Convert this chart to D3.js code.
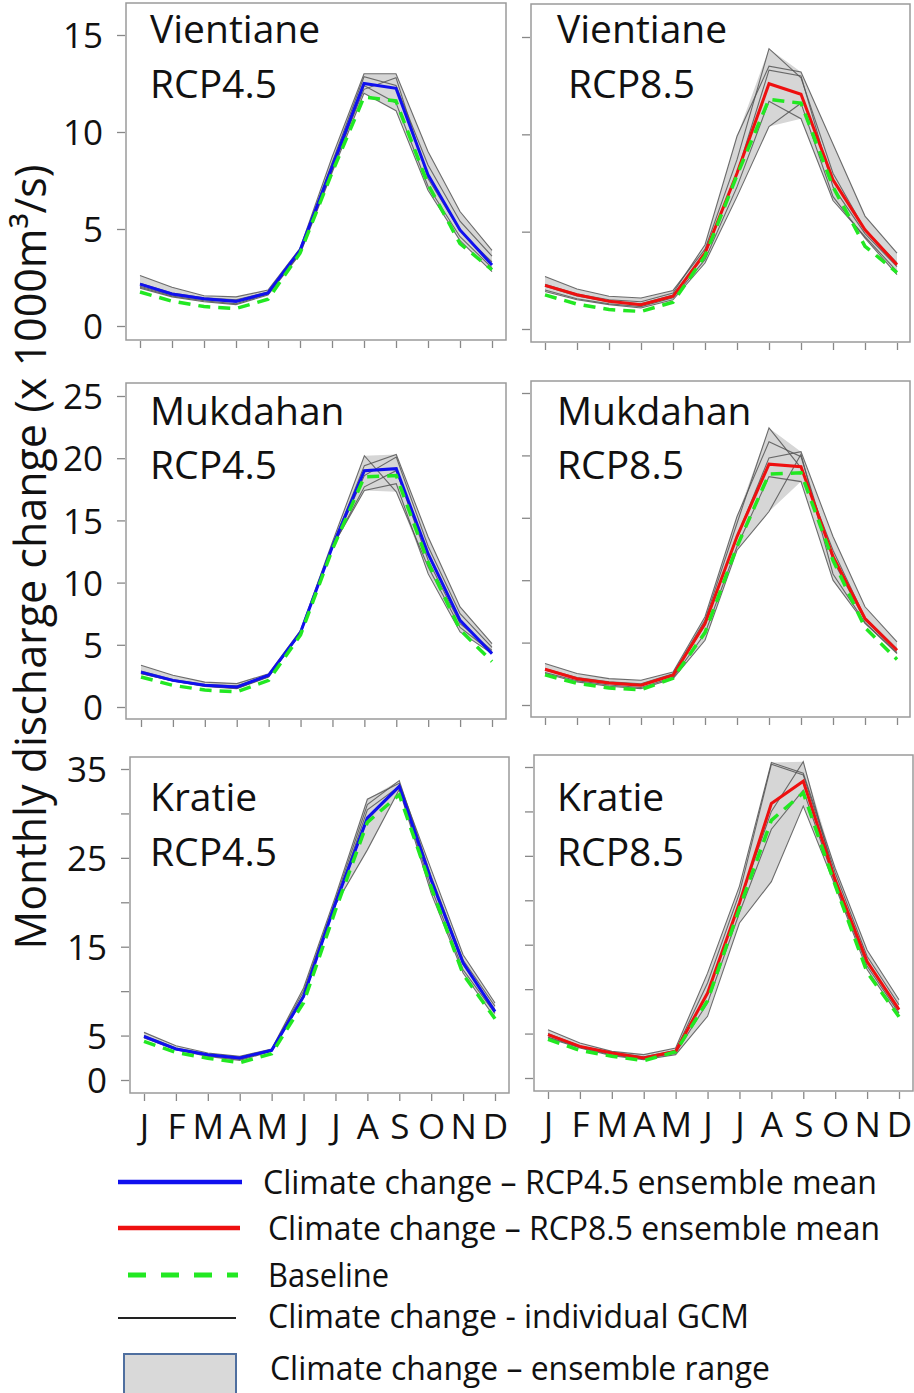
<!DOCTYPE html>
<html>
<head>
<meta charset="utf-8">
<script src="https://cdnjs.cloudflare.com/ajax/libs/d3/7.8.5/d3.min.js"></script>
<style>
  body{margin:0;background:#fff;}
  svg text{font-family:"Open Sans",sans-serif;fill:#111;}
</style>
</head>
<body>
<div id="content"></div>
<script>
(function(){

      //////////////////////////////////////////////////////////////
      //////////////////////// data ////////////////////////////////
      //////////////////////////////////////////////////////////////
      var months=["J","F","M","A","M","J","J","A","S","O","N","D"];

      var ticksVientiane=[0,5,10,15],
          ticksMukdahan=[0,5,10,15,20,25],
          ticksKratie=[0,5,10,15,20,25,30,35],
          labelsKratie=[0,5,15,25,35];

      // baseline (same for both scenarios)
      var baseVientiane=[1.75,1.28,1.0,0.9,1.38,3.75,7.9,11.8,11.6,7.3,4.25,2.9];
      var baseMukdahan=[2.41,1.74,1.36,1.22,2.14,5.8,12.7,18.5,18.6,11.6,6.2,3.65];
      var baseKratie=[4.35,3.1,2.45,1.95,2.95,8.7,19.1,29.0,32.1,21.7,11.9,6.9];

      // ensemble means
      var meanVientiane45=[2.16,1.65,1.4,1.27,1.7,3.9,8.2,12.5,12.25,7.8,4.95,3.15];
      var meanVientiane85=[2.24,1.76,1.42,1.25,1.68,3.9,8.0,12.6,12.06,7.66,5.1,3.3];
      var meanMukdahan45=[2.8,2.14,1.74,1.6,2.55,6.0,12.9,19.0,19.16,12.3,6.97,4.29];
      var meanMukdahan85=[2.86,2.11,1.77,1.58,2.38,6.53,13.5,19.3,19.1,11.9,6.93,4.39];
      var meanKratie45=[4.91,3.49,2.85,2.48,3.34,9.4,19.9,29.5,33.05,22.5,13.2,7.7];
      var meanKratie85=[4.88,3.56,2.81,2.25,3.0,9.56,19.7,30.9,33.4,22.3,13.1,7.69];

      // individual GCMs
      var gcmVientiane45=[
        [2.6,2.0,1.56,1.5,1.85,4.0,8.7,13.0,13.0,9.0,5.9,3.9],
        [2.2,1.7,1.45,1.35,1.75,3.9,8.4,12.85,12.4,8.3,5.4,3.6],
        [2.05,1.6,1.35,1.25,1.7,3.85,8.1,12.2,12.8,7.6,4.9,3.3],
        [2.0,1.55,1.3,1.15,1.65,3.75,8.0,12.4,11.5,7.2,4.6,3.0],
        [1.95,1.5,1.25,1.1,1.6,3.7,7.9,12.0,11.1,7.0,4.4,2.8]
      ];
      var gcmVientiane85=[
        [2.7,2.05,1.68,1.59,1.98,4.1,8.7,14.4,12.9,8.0,5.1,3.4],
        [2.3,1.8,1.5,1.4,1.85,4.33,9.9,13.5,13.2,9.5,5.8,3.9],
        [2.2,1.7,1.4,1.3,1.75,3.8,8.0,13.3,13.0,7.3,4.9,3.2],
        [2.0,1.55,1.3,1.15,1.6,3.56,7.3,11.7,10.8,6.6,4.75,2.96],
        [1.93,1.5,1.25,1.08,1.5,3.39,6.8,10.4,11.6,6.8,4.67,2.79]
      ];
      var gcmMukdahan45=[
        [3.35,2.55,2.0,1.88,2.68,6.16,13.26,20.2,17.3,11.25,6.4,4.4],
        [2.9,2.2,1.8,1.7,2.55,6.0,13.0,19.4,20.3,13.67,8.04,5.1],
        [2.8,2.15,1.75,1.6,2.5,6.0,12.9,18.6,20.1,12.9,7.5,4.8],
        [2.7,2.1,1.7,1.5,2.45,5.9,12.86,17.7,19.0,11.8,6.7,4.55],
        [2.68,2.1,1.66,1.47,2.41,5.9,12.9,17.4,17.95,10.7,6.03,4.29]
      ];
      var gcmMukdahan85=[
        [2.9,2.2,1.85,1.7,2.5,6.8,14.56,22.2,19.0,12.4,7.0,4.5],
        [3.32,2.52,2.11,1.98,2.65,7.07,15.1,21.1,19.9,11.6,6.8,4.4],
        [2.8,2.1,1.75,1.6,2.4,6.4,13.5,19.8,20.3,13.5,7.87,5.06],
        [2.6,1.95,1.6,1.4,2.2,5.73,12.7,18.3,17.9,10.0,6.53,4.12],
        [2.52,1.85,1.5,1.31,2.11,5.19,12.4,15.5,20.1,10.5,6.6,4.2]
      ];
      var gcmKratie45=[
        [5.36,3.86,3.04,2.66,3.49,10.35,20.67,31.6,33.4,23.7,14.1,8.66],
        [5.0,3.6,2.9,2.5,3.4,10.0,20.3,31.0,33.7,22.9,13.5,8.3],
        [4.9,3.5,2.85,2.4,3.35,9.6,19.9,30.4,33.05,22.4,13.0,7.9],
        [4.8,3.45,2.75,2.3,3.3,9.4,19.8,29.3,32.9,21.6,12.4,7.5],
        [4.73,3.41,2.66,2.21,3.23,9.23,19.73,25.9,32.7,21.0,12.04,7.0]
      ];
      var gcmKratie85=[
        [5.44,3.94,3.0,2.63,3.38,11.8,21.6,35.5,34.3,23.6,14.4,8.8],
        [5.0,3.6,2.9,2.4,3.1,10.7,20.8,35.3,34.1,23.1,13.7,8.25],
        [4.8,3.5,2.8,2.3,3.0,9.56,19.7,30.0,35.6,22.3,13.1,7.7],
        [4.6,3.45,2.6,2.15,2.8,8.44,18.6,28.0,32.4,21.9,12.6,7.3],
        [4.5,3.38,2.51,2.06,2.63,6.94,17.44,22.1,30.6,21.6,12.2,6.94]
      ];

      var legendLabels=[
        "Climate change \u2013 RCP4.5 ensemble mean",
        "Climate change \u2013 RCP8.5 ensemble mean",
        "Baseline",
        "Climate change - individual GCM",
        "Climate change \u2013 ensemble range"
      ];

      //////////////////////////////////////////////////////////////
      //////////////////////// layout //////////////////////////////
      //////////////////////////////////////////////////////////////
      var panels=[
        {name:"Vientiane",scen:"RCP4.5",indent:0,base:baseVientiane,mean:meanVientiane45,gcm:gcmVientiane45,color:"#1010ee",
         box:[126,3,506,340],yr:[326,35],xr:[140,492],max:15,ticks:ticksVientiane,labels:ticksVientiane,bottom:false,tx:150,ty:[43,98]},
        {name:"Vientiane",scen:"RCP8.5",indent:11,base:baseVientiane,mean:meanVientiane85,gcm:gcmVientiane85,color:"#ee1010",
         box:[531,4,910,342],yr:[329,37],xr:[545,897],max:15,ticks:ticksVientiane,labels:[],bottom:false,tx:557,ty:[43,98]},
        {name:"Mukdahan",scen:"RCP4.5",indent:0,base:baseMukdahan,mean:meanMukdahan45,gcm:gcmMukdahan45,color:"#1010ee",
         box:[126,383,506,719],yr:[707,396],xr:[141,492],max:25,ticks:ticksMukdahan,labels:ticksMukdahan,bottom:false,tx:150,ty:[425,479]},
        {name:"Mukdahan",scen:"RCP8.5",indent:0,base:baseMukdahan,mean:meanMukdahan85,gcm:gcmMukdahan85,color:"#ee1010",
         box:[531,381,910,717],yr:[705,393],xr:[545,897],max:25,ticks:ticksMukdahan,labels:[],bottom:false,tx:557,ty:[425,479]},
        {name:"Kratie",scen:"RCP4.5",indent:0,base:baseKratie,mean:meanKratie45,gcm:gcmKratie45,color:"#1010ee",
         box:[130,757,509,1093],yr:[1080,769],xr:[144,495],max:35,ticks:ticksKratie,labels:labelsKratie,bottom:true,tx:150,ty:[811,866]},
        {name:"Kratie",scen:"RCP8.5",indent:0,base:baseKratie,mean:meanKratie85,gcm:gcmKratie85,color:"#ee1010",
         box:[534,755,913,1091],yr:[1078,767],xr:[548,899],max:35,ticks:ticksKratie,labels:[],bottom:true,tx:557,ty:[811,866]}
      ];

      var svg=d3.select("#content").append("svg")
          .attr("width",914)
          .attr("height",1393);

      panels.forEach(drawPanel);

      function drawPanel(p){
        var x=d3.scalePoint().domain(d3.range(12)).range(p.xr);
        var y=d3.scaleLinear().domain([0,p.max]).range(p.yr);
        var g=svg.append("g");

        // ensemble range from the GCM runs
        var range=d3.range(12).map(function(i){
          var e=d3.extent(p.gcm,function(s){ return s[i]; });
          return {i:i,lo:e[0],hi:e[1]};
        });

        g.append("path")
          .datum(range)
          .attr("d",d3.area()
            .x(function(d){ return x(d.i); })
            .y0(function(d){ return y(d.lo); })
            .y1(function(d){ return y(d.hi); }))
          .style("fill","#d6d6d6")
          .style("stroke","none");

        var line=d3.line()
          .x(function(d,i){ return x(i); })
          .y(function(d){ return y(d); });

        g.selectAll(".gcm")
          .data(p.gcm)
          .enter().append("path")
          .attr("class","gcm")
          .attr("d",line)
          .style("fill","none")
          .style("stroke","#555")
          .style("stroke-opacity",0.85)
          .style("stroke-width",1.1);

        g.append("path")
          .datum(p.mean)
          .attr("d",line)
          .style("fill","none")
          .style("stroke",p.color)
          .style("stroke-width",3);

        g.append("path")
          .datum(p.base)
          .attr("d",line)
          .style("fill","none")
          .style("stroke","#22e822")
          .style("stroke-width",3.5)
          .style("stroke-dasharray","12,8");

        // frame
        g.append("rect")
          .attr("x",p.box[0])
          .attr("y",p.box[1])
          .attr("width",p.box[2]-p.box[0])
          .attr("height",p.box[3]-p.box[1])
          .style("fill","none")
          .style("stroke","#9a9a9a")
          .style("stroke-width",1.5);

        // y axis
        var ya=g.append("g")
          .attr("transform","translate("+(p.box[0]-1)+",0)")
          .call(d3.axisLeft(y)
            .tickValues(p.ticks)
            .tickSize(8)
            .tickPadding(14)
            .tickFormat(function(d){ return p.labels.indexOf(d)>=0 ? d : ""; }));
        ya.select(".domain").remove();
        ya.selectAll("line").style("stroke","#888").style("stroke-width",1.3);
        ya.selectAll("text").style("font-size","35px").attr("dy","0.36em");

        // x axis
        var xa=g.append("g")
          .attr("transform","translate(0,"+(p.box[3]+1)+")")
          .call(d3.axisBottom(x)
            .tickSize(7)
            .tickPadding(13)
            .tickFormat(function(i){ return p.bottom ? months[i] : ""; }));
        xa.select(".domain").remove();
        xa.selectAll("line").style("stroke","#888").style("stroke-width",1.3);
        xa.selectAll("text").style("font-size","35px");

        // panel title
        g.append("text")
          .attr("x",p.tx)
          .attr("y",p.ty[0])
          .style("font-size","39px")
          .text(p.name);
        g.append("text")
          .attr("x",p.tx+p.indent)
          .attr("y",p.ty[1])
          .style("font-size","39px")
          .text(p.scen);
      }

      // y axis title
      svg.append("text")
        .attr("transform","translate(46,557) rotate(-90)")
        .attr("text-anchor","middle")
        .attr("textLength",785)
        .attr("lengthAdjust","spacingAndGlyphs")
        .style("font-size","43px")
        .text("Monthly discharge change (x 1000m\u00b3/s)");

      //////////////////////////////////////////////
      //////////////////// legend //////////////////
      //////////////////////////////////////////////
      var leg=svg.append("g");
      var legRows=[
        {y:1182,tx:263,w:614},
        {y:1228,tx:268,w:612},
        {y:1275,tx:268,w:121},
        {y:1316,tx:268,w:481},
        {y:1368,tx:270,w:500}
      ];

      leg.append("line").attr("x1",118).attr("x2",242).attr("y1",1182).attr("y2",1182)
        .style("stroke","#1010ee").style("stroke-width",4.5);
      leg.append("line").attr("x1",118).attr("x2",240).attr("y1",1228).attr("y2",1228)
        .style("stroke","#ee1010").style("stroke-width",4.5);
      leg.append("line").attr("x1",128).attr("x2",238).attr("y1",1275).attr("y2",1275)
        .style("stroke","#22e822").style("stroke-width",5).style("stroke-dasharray","18,15");
      leg.append("line").attr("x1",118).attr("x2",236).attr("y1",1318).attr("y2",1318)
        .style("stroke","#222").style("stroke-width",2);
      leg.append("rect").attr("x",124).attr("y",1354).attr("width",112).attr("height",40)
        .style("fill","#d9d9d9").style("stroke","#4f6f9f").style("stroke-width",2);

      leg.selectAll(".legText")
        .data(legendLabels)
        .enter().append("text")
        .attr("class","legText")
        .attr("x",function(d,i){ return legRows[i].tx; })
        .attr("y",function(d,i){ return legRows[i].y; })
        .attr("dy","0.35em")
        .attr("textLength",function(d,i){ return legRows[i].w; })
        .attr("lengthAdjust","spacingAndGlyphs")
        .style("font-size","33px")
        .text(function(d){ return d; });

})();
</script>
</body>
</html>
